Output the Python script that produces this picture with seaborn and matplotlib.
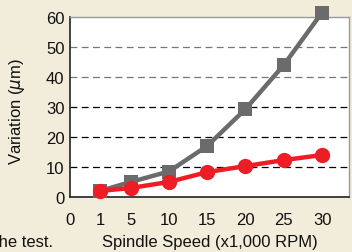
import matplotlib
matplotlib.use("Agg")
import matplotlib.pyplot as plt
import seaborn as sns
import pandas as pd

speeds = [1, 5, 10, 15, 20, 25, 30]
gray_vals = [2.0, 5.0, 8.5, 17.0, 29.3, 44.0, 61.5]
red_vals = [2.0, 3.0, 5.0, 8.3, 10.3, 12.3, 14.0]
tick_labels = ["0", "1", "5", "10", "15", "20", "25", "30"]
grid_levels = [10, 20, 30, 40, 50]

sns.set_theme(style="white")
plt.rcParams['font.family'] = ['Liberation Sans', 'DejaVu Sans']

bg = "#f2eddb"
fig = plt.figure(figsize=(3.52, 2.53), dpi=100, facecolor=bg)
ax = fig.add_axes([70/352, 1-198/253, 279/352, 180/253])
ax.set_facecolor("white")

df = pd.DataFrame({"speed": speeds * 2,
                   "val": gray_vals + red_vals,
                   "series": ["gray"] * 7 + ["red"] * 7})

for lvl in grid_levels:
    ax.axhline(lvl, color="#777777" if lvl >= 40 else "black", lw=0.9,
               ls=(0, (5.5, 3.5)), zorder=1)

sns.lineplot(data=df[df.series == "gray"], x="speed", y="val", ax=ax,
             color="#6b6b6b", lw=3.2, marker="s", markersize=10,
             markeredgewidth=0, zorder=3, clip_on=False)
sns.lineplot(data=df[df.series == "red"], x="speed", y="val", ax=ax,
             color="#ee1c25", lw=3.2, marker="o", markersize=11,
             markeredgewidth=0, zorder=4, clip_on=False)

xl = 1 - 30 / 7.69
xr = 30 + 27 / 7.69
ax.set_xlim(xl, xr)
ax.set_ylim(0, 60)
ax.set_xticks([xl] + speeds)
ax.set_xticklabels(tick_labels)
ax.set_yticks([0, 10, 20, 30, 40, 50, 60])
ax.tick_params(axis="both", labelsize=12, length=0, pad=4, colors="#111111")
ax.tick_params(axis="x", pad=11)
ax.set_xlabel("Spindle Speed (x1,000 RPM)", fontsize=12, color="#111111", labelpad=5)
ax.set_ylabel("Variation ($\\mu$m)", fontsize=12, color="#111111", labelpad=6)
ax.yaxis.set_label_coords(-0.155, 0.48)

for s in ["left", "bottom"]:
    ax.spines[s].set_color("#222222")
    ax.spines[s].set_linewidth(1.2)
for s in ["top", "right"]:
    ax.spines[s].set_color("#999999")
    ax.spines[s].set_linewidth(1.0)

fig.text(53/352, 1-243/253, "the test.", ha="right", va="center",
         fontsize=12, color="#111111")

fig.savefig("out.png", dpi=100, facecolor=bg)
